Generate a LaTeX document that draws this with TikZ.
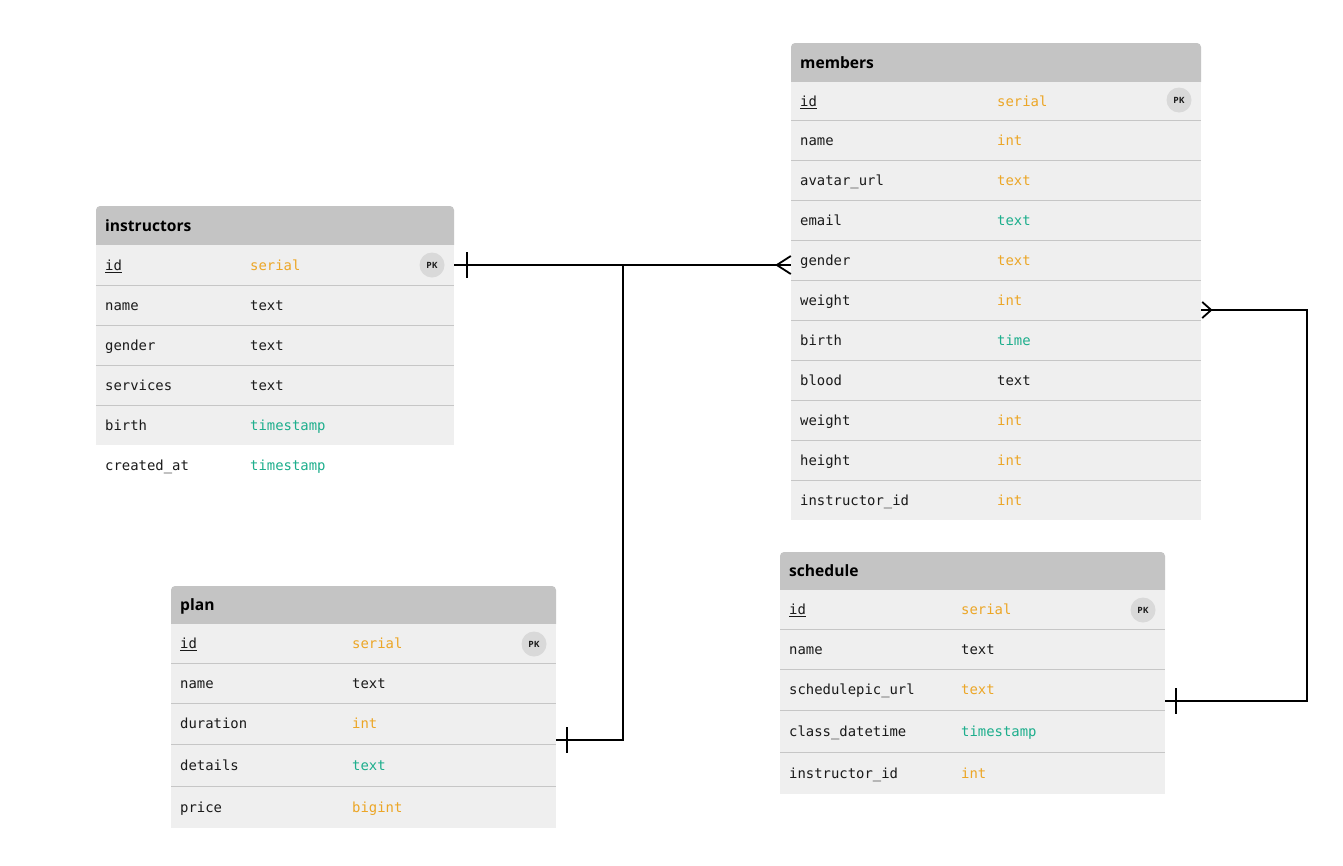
\documentclass[tikz,border=0pt]{standalone}
\usepackage{fontspec}
\setmonofont{DejaVu Sans Mono}
\newfontfamily\headfont{Open Sans}
\usetikzlibrary{calc}
\definecolor{headfill}{HTML}{C4C4C4}
\definecolor{rowfill}{HTML}{EFEFEF}
\definecolor{sepline}{HTML}{C6C6C6}
\definecolor{pkfill}{HTML}{D9D9D9}
\definecolor{torange}{RGB}{236,166,38}
\definecolor{tteal}{RGB}{28,174,140}
\definecolor{tblack}{HTML}{1A1A1A}
\tikzset{
  rowbox/.style={rectangle, fill=rowfill, draw=none, inner sep=0pt},
  plainbox/.style={rectangle, fill=none, draw=none, inner sep=0pt},
  field/.style={inner sep=0pt, anchor=base west, text=tblack, font=\ttfamily\fontsize{13.9}{15}\selectfont},
  ftype/.style={inner sep=0pt, anchor=base west, font=\ttfamily\fontsize{13.9}{15}\selectfont},
  title/.style={inner sep=0pt, anchor=base west, text=black, font=\headfont\bfseries\fontsize{15.6}{17}\selectfont},
  pk/.style={circle, fill=pkfill, minimum size=25pt, inner sep=0pt, text=tblack, font=\headfont\bfseries\fontsize{8.6}{9}\selectfont},
  sep/.style={draw=sepline, line width=1pt},
  conn/.style={draw=black, line width=1.8pt},
}
% #1 name, #2 x1, #3 x2, #4 xtype, #5 ytop, #6 ybot, #7 field, #8 colour, #9 type
\newcommand\erow[9]{%
  \node[rowbox, minimum width={(#3-#2)*1pt}, minimum height={(#6-#5)*1pt}] (#1) at ({(#2+#3)/2},{(#5+#6)/2}) {};
  \node[field] (#1-f) at ({#2+9},{(#5+#6)/2+5.3}) {#7};
  \node[ftype, text=#8] (#1-t) at (#4,{(#5+#6)/2+5.3}) {#9};
}
% #1 name, #2 x1, #3 x2, #4 ytop, #5 ybot, #6 title
\newcommand\ehead[6]{%
  \fill[headfill] (#2,#5) [rounded corners=4pt] -- (#2,#4) -- (#3,#4) [sharp corners] -- (#3,#5) -- cycle;
  \node[title] (#1) at ({#2+9},{(#4+#5)/2+5.5}) {#6};
}
\begin{document}
\begin{tikzpicture}[x=1pt,y=-1pt]
\useasboundingbox[fill=white] (0,0) rectangle (1343,865);

% ---------------- instructors ----------------
\ehead{ins}{96}{454}{206}{245}{instructors}
\erow{insid}{96}{454}{250}{245}{285}{\underline{id}}{torange}{serial}
\erow{insname}{96}{454}{250}{285}{325}{name}{tblack}{text}
\erow{insgender}{96}{454}{250}{325}{365}{gender}{tblack}{text}
\erow{insserv}{96}{454}{250}{365}{405}{services}{tblack}{text}
\erow{insbirth}{96}{454}{250}{405}{445}{birth}{tteal}{timestamp}
\node[plainbox, minimum width=358pt, minimum height=40pt] (inscreated) at (275,465) {};
\node[field] (inscreated-f) at (105,470.3) {created\_at};
\node[ftype, text=tteal] (inscreated-t) at (250,470.3) {timestamp};
\foreach \y in {285,325,365,405} \draw[sep] (96,\y) -- (454,\y);
\node[pk] (inspk) at (432,265) {PK};

% ---------------- members ----------------
\ehead{mem}{791}{1201}{43}{82}{members}
\erow{memid}{791}{1201}{997}{82}{120}{\underline{id}}{torange}{serial}
\erow{memname}{791}{1201}{997}{120}{160}{name}{torange}{int}
\erow{memavatar}{791}{1201}{997}{160}{200}{avatar\_url}{torange}{text}
\erow{memmail}{791}{1201}{997}{200}{240}{email}{tteal}{text}
\erow{memgender}{791}{1201}{997}{240}{280}{gender}{torange}{text}
\erow{memweight}{791}{1201}{997}{280}{320}{weight}{torange}{int}
\erow{membirth}{791}{1201}{997}{320}{360}{birth}{tteal}{time}
\erow{memblood}{791}{1201}{997}{360}{400}{blood}{tblack}{text}
\erow{memweighttwo}{791}{1201}{997}{400}{440}{weight}{torange}{int}
\erow{memheight}{791}{1201}{997}{440}{480}{height}{torange}{int}
\erow{meminst}{791}{1201}{997}{480}{520}{instructor\_id}{torange}{int}
\foreach \y in {120,160,200,240,280,320,360,400,440,480} \draw[sep] (791,\y) -- (1201,\y);
\node[pk] (mempk) at (1179,100) {PK};

% ---------------- plan ----------------
\ehead{plan}{171}{556}{586}{624}{plan}
\erow{planid}{171}{556}{352}{624}{663}{\underline{id}}{torange}{serial}
\erow{planname}{171}{556}{352}{663}{703}{name}{tblack}{text}
\erow{plandur}{171}{556}{352}{703}{744}{duration}{torange}{int}
\erow{plandet}{171}{556}{352}{744}{786}{details}{tteal}{text}
\erow{planprice}{171}{556}{352}{786}{828}{price}{torange}{bigint}
\foreach \y in {663,703,744,786} \draw[sep] (171,\y) -- (556,\y);
\node[pk] (planpk) at (534,644) {PK};

% ---------------- schedule ----------------
\ehead{sch}{780}{1165}{552}{590}{schedule}
\erow{schid}{780}{1165}{961}{590}{629}{\underline{id}}{torange}{serial}
\erow{schname}{780}{1165}{961}{629}{669}{name}{tblack}{text}
\erow{schurl}{780}{1165}{961}{669}{710}{schedulepic\_url}{torange}{text}
\erow{schdate}{780}{1165}{961}{710}{752}{class\_datetime}{tteal}{timestamp}
\erow{schinst}{780}{1165}{961}{752}{794}{instructor\_id}{torange}{int}
\foreach \y in {629,669,710,752} \draw[sep] (780,\y) -- (1165,\y);
\node[pk] (schpk) at (1143,610) {PK};

% ---------------- connectors ----------------
\coordinate (j) at (623,265);
\coordinate (pj) at (623,740);
\coordinate (rja) at (1307,310);
\coordinate (rjb) at (1307,701);

% instructors -> members (one to many)
\draw[conn] (insid.east) -- (j) -- (j -| memgender.west);
\draw[conn] ($(insid.east)+(13,-13)$) -- ++(0,26);
\draw[conn] ($(j -| memgender.west)+(0,-9)$) -- ($(j -| memgender.west)+(-14,0)$) -- ($(j -| memgender.west)+(0,9)$);

% instructors -> plan
\draw[conn] (j) -- (pj) -- (pj -| plandur.east);
\draw[conn] ($(pj -| plandur.east)+(11,-13)$) -- ++(0,26);

% members -> schedule
\draw[conn] (rja -| memweight.east) -- (rja) -- (rjb) -- (rjb -| schurl.east);
\draw[conn] ($(rja -| memweight.east)+(1,-8)$) -- ($(rja -| memweight.east)+(10,0)$) -- ($(rja -| memweight.east)+(1,8)$);
\draw[conn] ($(rjb -| schurl.east)+(11,-13)$) -- ++(0,26);
\end{tikzpicture}
\end{document}
